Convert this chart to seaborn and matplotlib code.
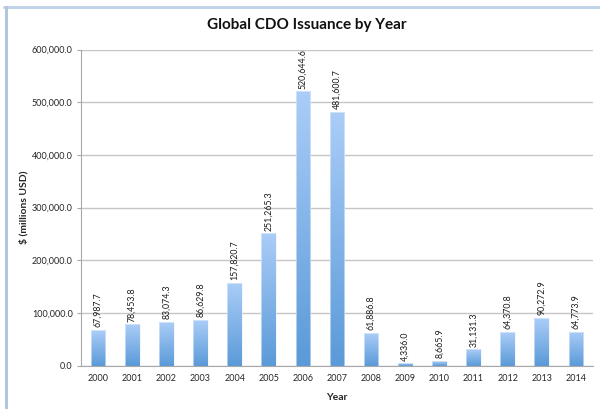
import numpy as np
import pandas as pd
import seaborn as sns
import matplotlib.pyplot as plt
from matplotlib.lines import Line2D
from matplotlib.colors import LinearSegmentedColormap
from matplotlib.ticker import FuncFormatter, MultipleLocator

# Data
years = ["2000", "2001", "2002", "2003", "2004", "2005", "2006", "2007",
         "2008", "2009", "2010", "2011", "2012", "2013", "2014"]
issuance = [67987.7, 78453.8, 83074.3, 86629.8, 157820.7, 251265.3, 520644.6,
            481600.7, 61886.8, 4336.0, 8665.9, 31131.3, 64370.8, 90272.9, 64773.9]

df = pd.DataFrame({"Year": years, "Issuance": issuance})

sns.set_style("white")
plt.rcParams['font.family'] = ['Lato', 'DejaVu Sans']

fig = plt.figure(figsize=(6, 4.09), dpi=100)
ax = fig.add_axes([81 / 600, 1 - 365.7 / 409, 512 / 600, (365.7 - 49.5) / 409])

sns.barplot(data=df, x="Year", y="Issuance", ax=ax, width=0.43,
            color="#7fb2ea", saturation=1, zorder=3)

# per-bar vertical gradient, light at the top and darker at the base
grad_cmap = LinearSegmentedColormap.from_list("bar_grad", ["#5a9ad8", "#abcdf8"])
grad = np.linspace(0, 1, 256).reshape(-1, 1)
for patch in ax.patches:
    x0, y0 = patch.get_x(), patch.get_y()
    w, h = patch.get_width(), patch.get_height()
    patch.set_facecolor("none")
    patch.set_edgecolor("#eaf2fc")
    patch.set_linewidth(0.4)
    im = ax.imshow(grad, cmap=grad_cmap, aspect="auto", origin="lower",
                   extent=[x0, x0 + w, y0, y0 + h], zorder=2)
    im.set_clip_path(patch)
    ax.text(x0 + w / 2, y0 + h + 5000, f"{h:,.1f}", rotation=90,
            ha="center", va="bottom", fontsize=6.3, color="#1a1a1a", zorder=4)

ax.set_xlim(-0.5, len(years) - 0.5)
ax.set_ylim(0, 600000)
ax.yaxis.set_major_locator(MultipleLocator(100000))
ax.yaxis.set_major_formatter(FuncFormatter(lambda v, p: f"{v:,.1f}"))
ax.grid(axis="y", color="#c6c6c6", linewidth=1.0, zorder=0)
ax.set_axisbelow(True)

for side in ["top", "right"]:
    ax.spines[side].set_visible(False)
for side in ["left", "bottom"]:
    ax.spines[side].set_color("#a8a8a8")
    ax.spines[side].set_linewidth(0.8)

# tick marks sit between categories on x
ax.set_xticks(np.arange(-0.5, len(years), 1.0), minor=True)
ax.tick_params(axis="x", which="major", length=0, labelsize=6.5, pad=6)
ax.tick_params(axis="x", which="minor", length=3, color="#a8a8a8", width=0.8,
               direction="out")
ax.tick_params(axis="y", length=3, color="#a8a8a8", width=0.8, direction="out",
               left=True, labelsize=6.5, pad=3)

ax.set_xlabel("Year", fontsize=7.5, fontweight="bold")
ax.xaxis.set_label_coords(0.5, -(393 - 365.7) / 316.2)
ax.set_ylabel("$ (millions USD)", fontsize=7.5, fontweight="bold")
ax.yaxis.set_label_coords(-(81 - 28) / 512, 0.5)

fig.text(307 / 600, 1 - 25 / 409, "Global CDO Issuance by Year", ha="center",
         va="center", fontsize=11, fontweight="bold", color="#111111")

# chart frame from the screenshot
fig.add_artist(Line2D([4 / 600, 1.0], [1 - 6.5 / 409] * 2, transform=fig.transFigure,
                      color="#c2d4ea", linewidth=2.2))
fig.add_artist(Line2D([5.5 / 600] * 2, [1 - 6.5 / 409, 0], transform=fig.transFigure,
                      color="#b4c6de", linewidth=2.2))

fig.savefig("out.png", dpi=100)
